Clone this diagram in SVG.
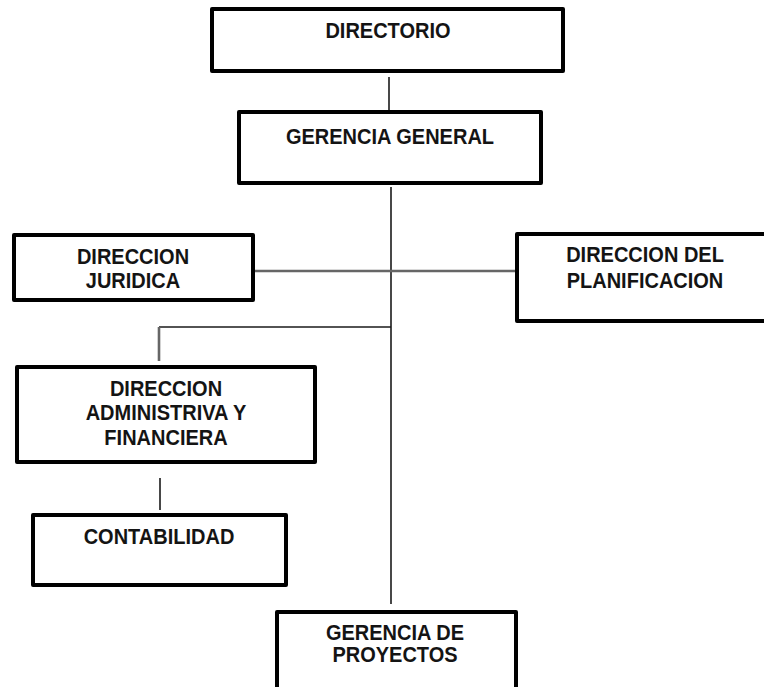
<svg xmlns="http://www.w3.org/2000/svg" width="764" height="687" viewBox="0 0 764 687">
<style>
.box{fill:#fff;stroke:#000;stroke-width:4;stroke-linejoin:round}
.lbl{font-family:"Liberation Sans",Arial,sans-serif;font-weight:bold;font-size:20px;fill:#141414;text-anchor:middle}
.ln{stroke:#1a1a1a;stroke-width:1.6;fill:none}
.lg{stroke:#666;stroke-width:2.6;fill:none}
</style>
<rect width="764" height="687" fill="#fff"/>
<g id="connectors">
<line class="ln" x1="389" y1="77" x2="389" y2="110"/>
<line class="ln" x1="391" y1="187" x2="391" y2="604"/>
<line class="lg" x1="255" y1="271" x2="517" y2="271"/>
<line class="ln" x1="159" y1="327" x2="391" y2="327"/>
<line class="lg" x1="159" y1="327" x2="159" y2="361"/>
<line class="ln" x1="160" y1="478" x2="160" y2="510"/>
</g>
<g id="directorio">
<rect class="box" x="212" y="9" width="351" height="62"/>
<text class="lbl" transform="translate(388,38) scale(1,1.1)">DIRECTORIO</text>
</g>
<g id="gerencia-general">
<rect class="box" x="239" y="112" width="302" height="71"/>
<text class="lbl" transform="translate(390,144) scale(1,1.1)">GERENCIA GENERAL</text>
</g>
<g id="direccion-juridica">
<rect class="box" x="14" y="235" width="239" height="65"/>
<text class="lbl" transform="translate(133,264) scale(1,1.1)">DIRECCION</text>
<text class="lbl" transform="translate(133,288) scale(1,1.1)">JURIDICA</text>
</g>
<g id="direccion-planificacion">
<rect class="box" x="517" y="234" width="260" height="87"/>
<text class="lbl" transform="translate(645,262) scale(1,1.1)">DIRECCION DEL</text>
<text class="lbl" transform="translate(645,288) scale(1,1.1)">PLANIFICACION</text>
</g>
<g id="direccion-administrativa">
<rect class="box" x="17" y="367" width="298" height="95"/>
<text class="lbl" transform="translate(166,396) scale(1,1.1)">DIRECCION</text>
<text class="lbl" transform="translate(166,420) scale(1,1.1)">ADMINISTRIVA Y</text>
<text class="lbl" transform="translate(166,445) scale(1,1.1)">FINANCIERA</text>
</g>
<g id="contabilidad">
<rect class="box" x="33" y="515" width="253" height="70"/>
<text class="lbl" transform="translate(159,544) scale(1,1.1)">CONTABILIDAD</text>
</g>
<g id="gerencia-proyectos">
<rect class="box" x="277" y="612" width="239" height="100"/>
<text class="lbl" transform="translate(395,640) scale(1,1.1)">GERENCIA DE</text>
<text class="lbl" transform="translate(395,662) scale(1,1.1)">PROYECTOS</text>
</g>
</svg>
